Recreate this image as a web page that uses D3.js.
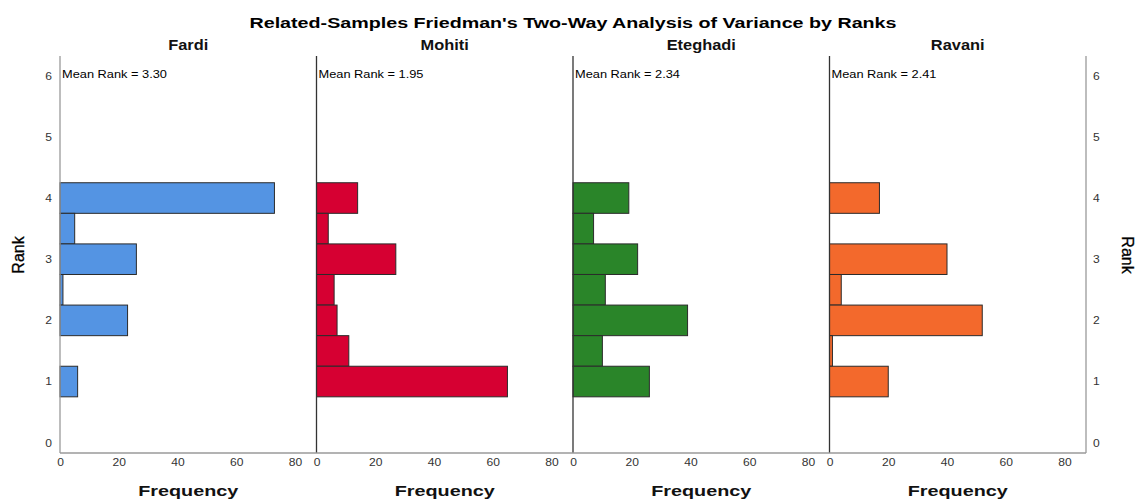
<!DOCTYPE html>
<html>
<head>
<meta charset="utf-8">
<script src="https://cdn.jsdelivr.net/npm/d3@7"></script>
<style>
  html, body { margin: 0; padding: 0; background: #fff; }
  svg { display: block; font-family: "Liberation Sans", Arial, sans-serif; }
</style>
</head>
<body>
<svg id="chart" width="1136" height="500"></svg>
<script>
// ---- data ----
const ranks = [4, 3.5, 3, 2.5, 2, 1.5, 1];
const fardi = [73, 5, 26, 1, 23, 0, 6];
const mohiti = [14, 4, 27, 6, 7, 11, 65];
const eteghadi = [19, 7, 22, 11, 39, 10, 26];
const ravani = [17, 0, 40, 4, 52, 1, 20];
const panelNames = ["Fardi", "Mohiti", "Eteghadi", "Ravani"];
const meanRanks = ["3.30", "1.95", "2.34", "2.41"];
const xTicks = [0, 20, 40, 60, 80];
const yTicks = [0, 1, 2, 3, 4, 5, 6];
const titleText = "Related-Samples Friedman's Two-Way Analysis of Variance by Ranks";

const series = [fardi, mohiti, eteghadi, ravani];
const colors = ["#5494e3", "#d60032", "#2a8529", "#f3692c"];

// ---- layout ----
const svg = d3.select("#chart");
svg.append("rect").attr("width", 1136).attr("height", 500).attr("fill", "#fff");

const plotLeft = 60, plotRight = 1086, plotTop = 56, plotBottom = 453;
const panelW = (plotRight - plotLeft) / 4;
const y = d3.scaleLinear().domain([0, 6]).range([442.7, 75.7]);
const binHalf = 0.25;

function stretchText(sel, k) {
  sel.each(function () {
    const w = this.getComputedTextLength();
    d3.select(this).attr("textLength", w * k).attr("lengthAdjust", "spacingAndGlyphs");
  });
}

// title
svg.append("text")
  .attr("x", 573).attr("y", 28)
  .attr("text-anchor", "middle")
  .attr("font-size", 14).attr("font-weight", "bold").attr("fill", "#000")
  .text(titleText)
  .attr("textLength", 647).attr("lengthAdjust", "spacingAndGlyphs");

series.forEach((vals, i) => {
  const L = plotLeft + i * panelW;
  const cx = L + panelW / 2;
  const x = d3.scaleLinear().domain([0, 80]).range([L, L + 235]);
  const g = svg.append("g");

  const data = ranks.map((r, j) => ({ r, v: vals[j] })).filter(d => d.v > 0);
  g.selectAll("rect.bar").data(data).enter().append("rect")
    .attr("class", "bar")
    .attr("x", x(0))
    .attr("y", d => y(d.r + binHalf))
    .attr("width", d => x(d.v) - x(0))
    .attr("height", d => y(d.r - binHalf) - y(d.r + binHalf))
    .attr("fill", colors[i])
    .attr("stroke", "#2b2b2b")
    .attr("stroke-width", 1);

  // panel left line
  g.append("line")
    .attr("x1", L).attr("x2", L).attr("y1", plotTop).attr("y2", plotBottom)
    .attr("stroke", i === 0 ? "#9a9a9a" : "#333").attr("stroke-width", 1.3);

  // x axis
  const ax = g.append("g")
    .attr("transform", `translate(0,${plotBottom})`)
    .call(d3.axisBottom(x).tickValues(xTicks).tickFormat(d3.format("d")).tickSize(0).tickPadding(6));
  ax.select(".domain").remove();
  ax.selectAll("text")
    .attr("font-size", 10.5).attr("fill", "#333")
    .attr("font-family", "'Liberation Sans', Arial, sans-serif")
    .call(stretchText, 1.15);

  // panel title
  g.append("text")
    .attr("x", cx).attr("y", 50).attr("text-anchor", "middle")
    .attr("font-size", 14).attr("font-weight", "bold").attr("fill", "#111")
    .text(panelNames[i])
    .call(stretchText, 1.17);

  // mean rank
  g.append("text")
    .attr("x", L + 2).attr("y", 78)
    .attr("font-size", 10.5).attr("fill", "#000")
    .text(`Mean Rank = ${meanRanks[i]}`)
    .attr("textLength", 105).attr("lengthAdjust", "spacingAndGlyphs");

  // frequency label
  g.append("text")
    .attr("x", cx).attr("y", 496).attr("text-anchor", "middle")
    .attr("font-size", 15).attr("font-weight", "bold").attr("fill", "#111")
    .text("Frequency")
    .attr("textLength", 100).attr("lengthAdjust", "spacingAndGlyphs");
});

// right axis line and bottom line
svg.append("line")
  .attr("x1", plotRight).attr("x2", plotRight).attr("y1", plotTop).attr("y2", plotBottom)
  .attr("stroke", "#9a9a9a").attr("stroke-width", 1.3);
svg.append("line")
  .attr("x1", plotLeft).attr("x2", plotRight).attr("y1", plotBottom).attr("y2", plotBottom)
  .attr("stroke", "#9a9a9a").attr("stroke-width", 1.3);

// y axes
const yl = svg.append("g").attr("transform", `translate(${plotLeft},0)`)
  .call(d3.axisLeft(y).tickValues(yTicks).tickFormat(d3.format("d")).tickSize(0).tickPadding(8));
yl.select(".domain").remove();
yl.selectAll("text").attr("font-size", 10.5).attr("fill", "#333")
  .attr("font-family", "'Liberation Sans', Arial, sans-serif")
  .call(stretchText, 1.15);

const yr = svg.append("g").attr("transform", `translate(${plotRight},0)`)
  .call(d3.axisRight(y).tickValues(yTicks).tickFormat(d3.format("d")).tickSize(0).tickPadding(7));
yr.select(".domain").remove();
yr.selectAll("text").attr("font-size", 10.5).attr("fill", "#333")
  .attr("font-family", "'Liberation Sans', Arial, sans-serif")
  .call(stretchText, 1.15);

// Rank labels
svg.append("text")
  .attr("transform", "translate(18,255) rotate(-90)")
  .attr("text-anchor", "middle").attr("dominant-baseline", "central")
  .attr("font-size", 16).attr("fill", "#000").attr("stroke", "#000").attr("stroke-width", 0.3)
  .text("Rank");
svg.append("text")
  .attr("transform", "translate(1127,255) rotate(90)")
  .attr("text-anchor", "middle").attr("dominant-baseline", "central")
  .attr("font-size", 16).attr("fill", "#000").attr("stroke", "#000").attr("stroke-width", 0.3)
  .text("Rank");
</script>
</body>
</html>
